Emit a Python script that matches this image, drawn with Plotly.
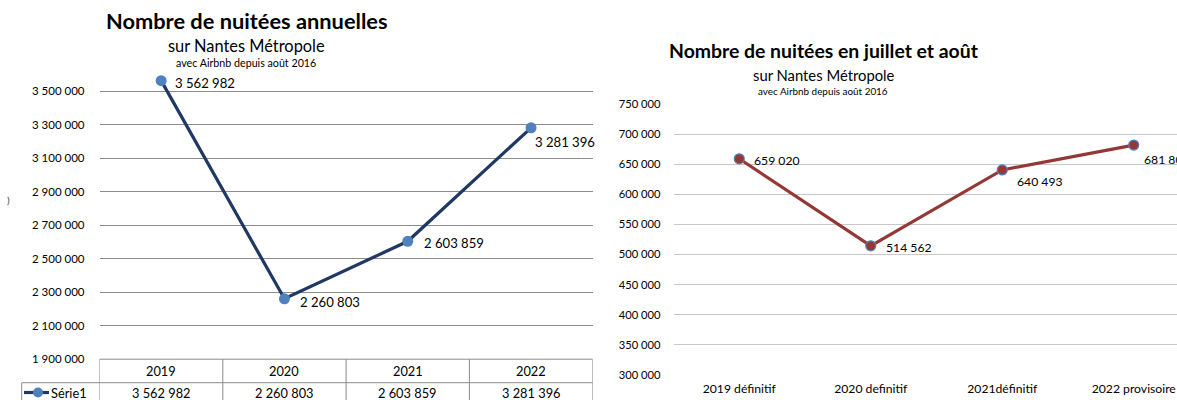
import plotly.graph_objects as go

# ---------------- data ----------------
years = ["2019", "2020", "2021", "2022"]
annual_nights = [3562982, 2260803, 2603859, 3281396]
series_name = "Série1"

summer_cats = ["2019 définitif", "2020 definitif", "2021définitif", "2022 provisoire"]
summer_nights = [659020, 514562, 640493, 681800]

left_ticks = [1900000, 2100000, 2300000, 2500000, 2700000, 2900000, 3100000, 3300000, 3500000]
right_ticks = [300000, 350000, 400000, 450000, 500000, 550000, 600000, 650000, 700000, 750000]

# ---------------- geometry helpers ----------------
W, H = 1177, 400
FONT = "Lato, Carlito, Calibri, sans-serif"


def px(x):
    return x / W


def py(y):
    return 1 - y / H


def fmt(v):
    return f"{v:,}".replace(",", " ")


NAVY = "#1F3864"
BLUE = "#4F81BD"
RED = "#953735"
GRID_L = "#8C8C8C"
GRID_R = "#C8C8C8"
BORDER = "#8C8C8C"

fig = go.Figure()

# left chart
fig.add_trace(go.Scatter(
    x=years, y=annual_nights, mode="lines+markers", xaxis="x", yaxis="y",
    line=dict(color=NAVY, width=3.2),
    marker=dict(color=BLUE, size=11, line=dict(width=0)),
    cliponaxis=False, showlegend=False, hoverinfo="skip"))

# right chart
fig.add_trace(go.Scatter(
    x=summer_cats, y=summer_nights, mode="lines+markers", xaxis="x2", yaxis="y2",
    line=dict(color=RED, width=3.2),
    marker=dict(color=RED, size=10, line=dict(width=1.2, color=BLUE)),
    cliponaxis=False, showlegend=False, hoverinfo="skip"))

# left axes: 1.9M at y=359.2, 200k per 33.5 px
left_bottom_px, left_top_px = 359.2, 68.0
left_top_val = 1900000 + (left_bottom_px - left_top_px) / 33.5 * 200000
# right axes: 300k at y=375, 750k at y=104
right_bottom_px, right_top_px = 375.0, 104.0
cat_w = 131.5
right_left_px = 673.5

fig.update_layout(
    width=W, height=H, margin=dict(l=0, r=0, t=0, b=0, pad=0, autoexpand=False),
    paper_bgcolor="white", plot_bgcolor="white",
    separators=", ",
    font=dict(family=FONT, color="#000000"),
    xaxis=dict(domain=[px(99.5), px(592.7)], type="category", range=[-0.5, 3.5],
               showticklabels=False, showgrid=False, zeroline=False, showline=False,
               anchor="y", fixedrange=True, automargin=False),
    yaxis=dict(domain=[py(left_bottom_px), py(left_top_px)], range=[1900000, left_top_val],
               tickvals=left_ticks, tickformat=",d", showgrid=True, gridcolor=GRID_L, gridwidth=1,
               zeroline=False, showline=False, ticks="", ticklabelstandoff=14,
               tickfont=dict(size=11.5, family=FONT, color="#000"), anchor="x", fixedrange=True,
               automargin=False),
    xaxis2=dict(domain=[px(right_left_px), 1.0], type="category",
                range=[-0.5, -0.5 + (W - right_left_px) / cat_w],
                showgrid=False, zeroline=False, showline=False, ticks="",
                tickfont=dict(size=12.2, family=FONT, color="#000"), ticklabelstandoff=5,
                anchor="y2", fixedrange=True, automargin=False),
    yaxis2=dict(domain=[py(right_bottom_px), py(right_top_px)], range=[300000, 750000],
                tickvals=right_ticks, tickformat=",d", showgrid=True, gridcolor=GRID_R, gridwidth=1,
                zeroline=False, showline=False, ticks="", ticklabelstandoff=12,
                tickfont=dict(size=11.2, family=FONT, color="#000"), anchor="x2", fixedrange=True,
                automargin=False),
)

ann = []
shapes = []

# titles
ann.append(dict(text="<b>Nombre de nuitées annuelles</b>", x=px(246.5), y=py(20), xref="paper", yref="paper",
                showarrow=False, xanchor="center", yanchor="middle", font=dict(size=21.8, family=FONT)))
ann.append(dict(text="sur Nantes Métropole", x=px(246), y=py(45), xref="paper", yref="paper",
                showarrow=False, xanchor="center", yanchor="middle", font=dict(size=16.4, family=FONT)))
ann.append(dict(text="avec Airbnb depuis août 2016", x=px(246), y=py(62), xref="paper", yref="paper",
                showarrow=False, xanchor="center", yanchor="middle", font=dict(size=10.7, family=FONT)))

ann.append(dict(text="<b>Nombre de nuitées en juillet et août</b>", x=px(824), y=py(50), xref="paper", yref="paper",
                showarrow=False, xanchor="center", yanchor="middle", font=dict(size=19.4, family=FONT)))
ann.append(dict(text="sur Nantes Métropole", x=px(823.5), y=py(75), xref="paper", yref="paper",
                showarrow=False, xanchor="center", yanchor="middle", font=dict(size=14.8, family=FONT)))
ann.append(dict(text="avec Airbnb depuis août 2016", x=px(823), y=py(91), xref="paper", yref="paper",
                showarrow=False, xanchor="center", yanchor="middle", font=dict(size=9.9, family=FONT)))

# stray clipped axis title on the far left
ann.append(dict(text=")", x=px(8), y=py(200), xref="paper", yref="paper",
                showarrow=False, xanchor="center", yanchor="middle", font=dict(size=10, family=FONT, color="#444")))

# data labels left
left_off = [(12, 2), (14, 3), (14, 2), (2, 14)]
for i, (v, (dx, dy)) in enumerate(zip(annual_nights, left_off)):
    ann.append(dict(text=fmt(v), x=i, y=v, xref="x", yref="y", showarrow=False,
                    xanchor="left", yanchor="middle", xshift=dx, yshift=-dy,
                    font=dict(size=13.1, family=FONT)))

# data labels right
right_off = [(13, 2), (13, 2), (13, 12), (8, 14)]
for i, (v, (dx, dy)) in enumerate(zip(summer_nights, right_off)):
    ann.append(dict(text=fmt(v), x=i, y=v, xref="x2", yref="y2", showarrow=False,
                    xanchor="left", yanchor="middle", xshift=dx, yshift=-dy,
                    font=dict(size=12.2, family=FONT)))

# data table under the left chart
row1_top, row1_bot, row2_bot = 359.2, 382.7, 410
for i, (c, v) in enumerate(zip(years, annual_nights)):
    ann.append(dict(text=c, x=i, y=py((row1_top + row1_bot) / 2), xref="x", yref="paper", showarrow=False,
                    xanchor="center", yanchor="middle", font=dict(size=12.8, family=FONT)))
    ann.append(dict(text=fmt(v), x=i, y=py(392.5), xref="x", yref="paper", showarrow=False,
                    xanchor="center", yanchor="middle", font=dict(size=12.8, family=FONT)))

# table grid lines
shapes.append(dict(type="line", xref="x", yref="paper", x0=-0.5, x1=3.5, y0=py(row1_top), y1=py(row1_top),
                   line=dict(color=BORDER, width=1)))
shapes.append(dict(type="line", xref="paper", yref="paper", x0=px(21.7), x1=px(592.7), y0=py(row1_bot), y1=py(row1_bot),
                   line=dict(color=BORDER, width=1)))
for b in [-0.5, 0.5, 1.5, 2.5, 3.5]:
    shapes.append(dict(type="line", xref="x", yref="paper", x0=b, x1=b, y0=py(row1_top), y1=py(row2_bot),
                       line=dict(color=BORDER, width=1)))
shapes.append(dict(type="line", xref="paper", yref="paper", x0=px(21.7), x1=px(21.7), y0=py(row1_bot), y1=py(row2_bot),
                   line=dict(color=BORDER, width=1)))

# legend key inside the table
shapes.append(dict(type="line", xref="paper", yref="paper", x0=px(24), x1=px(49), y0=py(392.5), y1=py(392.5),
                   line=dict(color=NAVY, width=3.2)))
shapes.append(dict(type="circle", xref="paper", yref="paper", x0=px(33), x1=px(43), y0=py(397.5), y1=py(387.5),
                   fillcolor=BLUE, line=dict(width=0)))
ann.append(dict(text=series_name, x=px(49), y=py(392.5), xref="paper", yref="paper", showarrow=False,
                xanchor="left", yanchor="middle", font=dict(size=12.8, family=FONT)))

fig.update_layout(annotations=ann, shapes=shapes)

fig.write_html("out.html", config={"displayModeBar": False, "staticPlot": True},
               post_script="document.body.style.margin='0';document.body.style.overflow='hidden';")
